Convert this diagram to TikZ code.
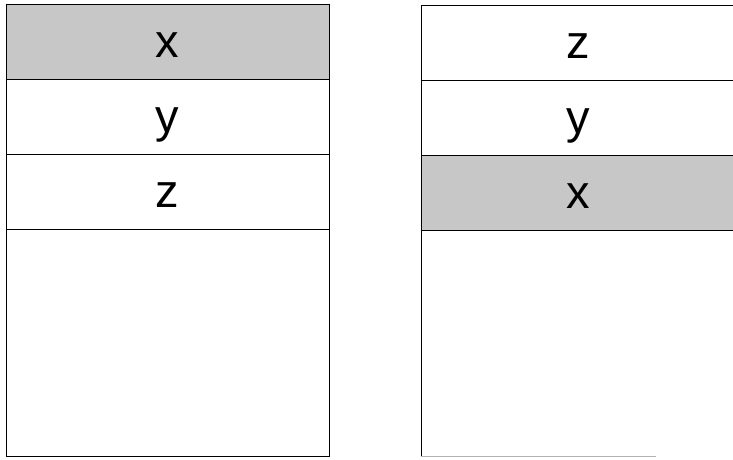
\documentclass[tikz,border=0pt]{standalone}
\usepackage{fontspec}
\setmainfont{Liberation Sans}
\usepackage{xcolor}
\usetikzlibrary{positioning}

\definecolor{shade}{gray}{0.78}

\begin{document}
\begin{tikzpicture}[
x=1pt,y=1pt,
every node/.style={font=\fontsize{47}{47}\selectfont},
cell/.style={draw,line width=1pt,outer sep=0pt,inner sep=0pt,
  minimum height=75pt,text height=31pt,text depth=0pt},
leftcell/.style={cell,minimum width=323pt},
rightcell/.style={cell,minimum width=314pt},
frame/.style={draw,line width=1pt,outer sep=0pt,inner sep=0pt}
]
\useasboundingbox (0,0) rectangle (733,460);

% Left stack
\node[frame,minimum width=323pt,minimum height=452pt,anchor=north west] (lframe) at (6,455) {};
\node[leftcell,fill=shade,anchor=north west] (lx) at (lframe.north west) {x};
\node[leftcell,below=0pt of lx] (ly) {y};
\node[leftcell,below=0pt of ly] (lz) {z};

% Right stack (runs past the right edge)
\node[frame,minimum width=314pt,minimum height=451pt,anchor=north west] (rframe) at (421,454) {};
\node[rightcell,anchor=north west] (rz) at (rframe.north west) {z};
\node[rightcell,below=0pt of rz] (ry) {y};
\node[rightcell,fill=shade,below=0pt of ry] (rx) {x};
\draw[white,line width=1.2pt] (rframe.south west) -- (rframe.south east);
\draw[gray!60,line width=1pt] (rframe.south west) -- ++(235,0);

\end{tikzpicture}
\end{document}
